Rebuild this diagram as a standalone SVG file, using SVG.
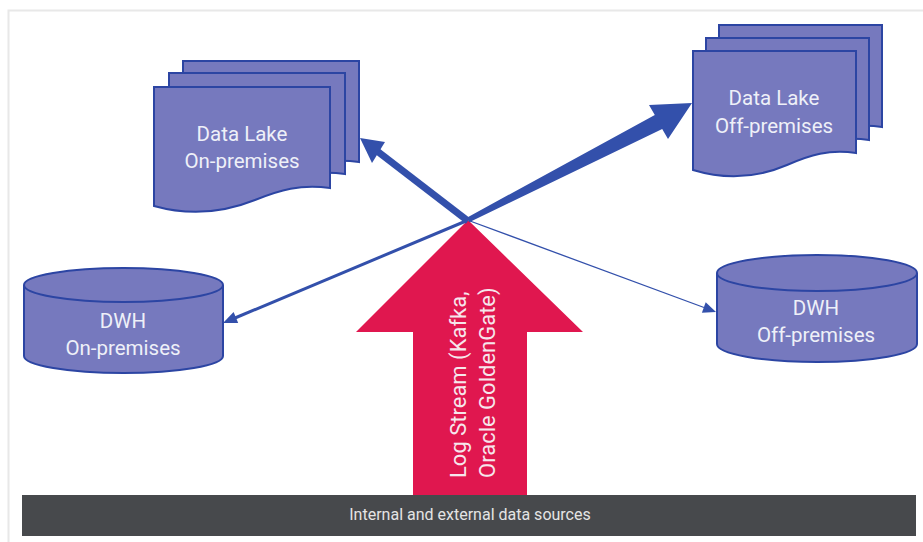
<svg xmlns="http://www.w3.org/2000/svg" width="923" height="542" viewBox="0 0 923 542">
  <defs>
    <style>
      .shape { fill: #7679be; stroke: #2c45a3; stroke-width: 2; }
      .label { font-family: Roboto, "Liberation Sans", sans-serif; font-size: 20.5px; fill: #eef0f8; text-anchor: middle; }
      .flow { fill: #3350ab; }
      .flow-line { stroke: #3350ab; fill: none; }
      .stream-label { font-family: Roboto, "Liberation Sans", sans-serif; font-size: 22px; fill: #f6e6ec; }
      .bar-label { font-family: Roboto, "Liberation Sans", sans-serif; font-size: 16px; fill: #e4e4e4; text-anchor: middle; }
    </style>
    <!-- document sheet with a wavy lower edge -->
    <path id="docA" d="M0,0 H176 V101 C146,97 126,103 101,113 C71,125 36,129 0,119 Z"/>
    <path id="docB" d="M0,0 H163 V102 C136,98 117,104 94,114 C66,126 33,129 0,119 Z"/>
  </defs>

  <rect x="0" y="0" width="923" height="542" fill="#ffffff"/>
  <rect x="8.5" y="10.5" width="925" height="540" fill="none" stroke="#e8e8e8" stroke-width="2"/>

  <!-- connectors -->
  <g id="connectors">
    <!-- log stream arrow -->
    <polygon points="468,220 583,332 527,332 527,495 413,495 413,332 356,332" fill="#e0174f"/>
    <!-- to data lake on-premises -->
    <line class="flow-line" x1="468" y1="221" x2="377" y2="151" stroke-width="7"/>
    <polygon class="flow" points="360,138 385,142 372,163"/>
    <!-- to data lake off-premises (tapered) -->
    <polygon class="flow" points="466.8,217.7 654.8,114.9 649,105 692,103 668,139 662.2,129.1 469.2,222.3"/>
    <!-- to DWH on-premises -->
    <line class="flow-line" x1="466" y1="221" x2="235" y2="318" stroke-width="3"/>
    <polygon class="flow" points="223,323 238.2,323.1 233.6,312.1"/>
    <!-- to DWH off-premises -->
    <line class="flow-line" x1="470" y1="221" x2="704" y2="307.5" stroke-width="1.3"/>
    <polygon class="flow" points="716,312 701.9,312.7 705.7,302.3"/>
  </g>

  <g id="datalake-onprem">
    <use href="#docA" class="shape" x="183" y="61"/>
    <use href="#docA" class="shape" x="169" y="73"/>
    <use href="#docA" class="shape" x="154" y="87"/>
    <text class="label" x="242" y="141">Data Lake</text>
    <text class="label" x="242" y="168">On-premises</text>
  </g>

  <g id="datalake-offprem">
    <use href="#docB" class="shape" x="719" y="25"/>
    <use href="#docB" class="shape" x="706" y="38"/>
    <use href="#docB" class="shape" x="693" y="51"/>
    <text class="label" x="774" y="105">Data Lake</text>
    <text class="label" x="774" y="133">Off-premises</text>
  </g>

  <g id="dwh-onprem">
    <path class="shape" d="M24,285 V356 A99.5,17 0 0 0 223,356 V285"/>
    <ellipse class="shape" cx="123.5" cy="285" rx="99.5" ry="17"/>
    <text class="label" x="123" y="328">DWH</text>
    <text class="label" x="123" y="355">On-premises</text>
  </g>

  <g id="dwh-offprem">
    <path class="shape" d="M717,273 V344 A100,18 0 0 0 917,344 V273"/>
    <ellipse class="shape" cx="817" cy="273" rx="100" ry="18"/>
    <text class="label" x="816" y="315">DWH</text>
    <text class="label" x="816" y="342">Off-premises</text>
  </g>

  <g id="log-stream">
    <text class="stream-label" transform="translate(466,478) rotate(-90)">Log Stream (Kafka,</text>
    <text class="stream-label" transform="translate(495,478) rotate(-90)">Oracle GoldenGate)</text>
  </g>

  <g id="data-sources">
    <rect x="22" y="495" width="894" height="41" fill="#47494c"/>
    <text class="bar-label" x="470" y="520">Internal and external data sources</text>
  </g>
</svg>
